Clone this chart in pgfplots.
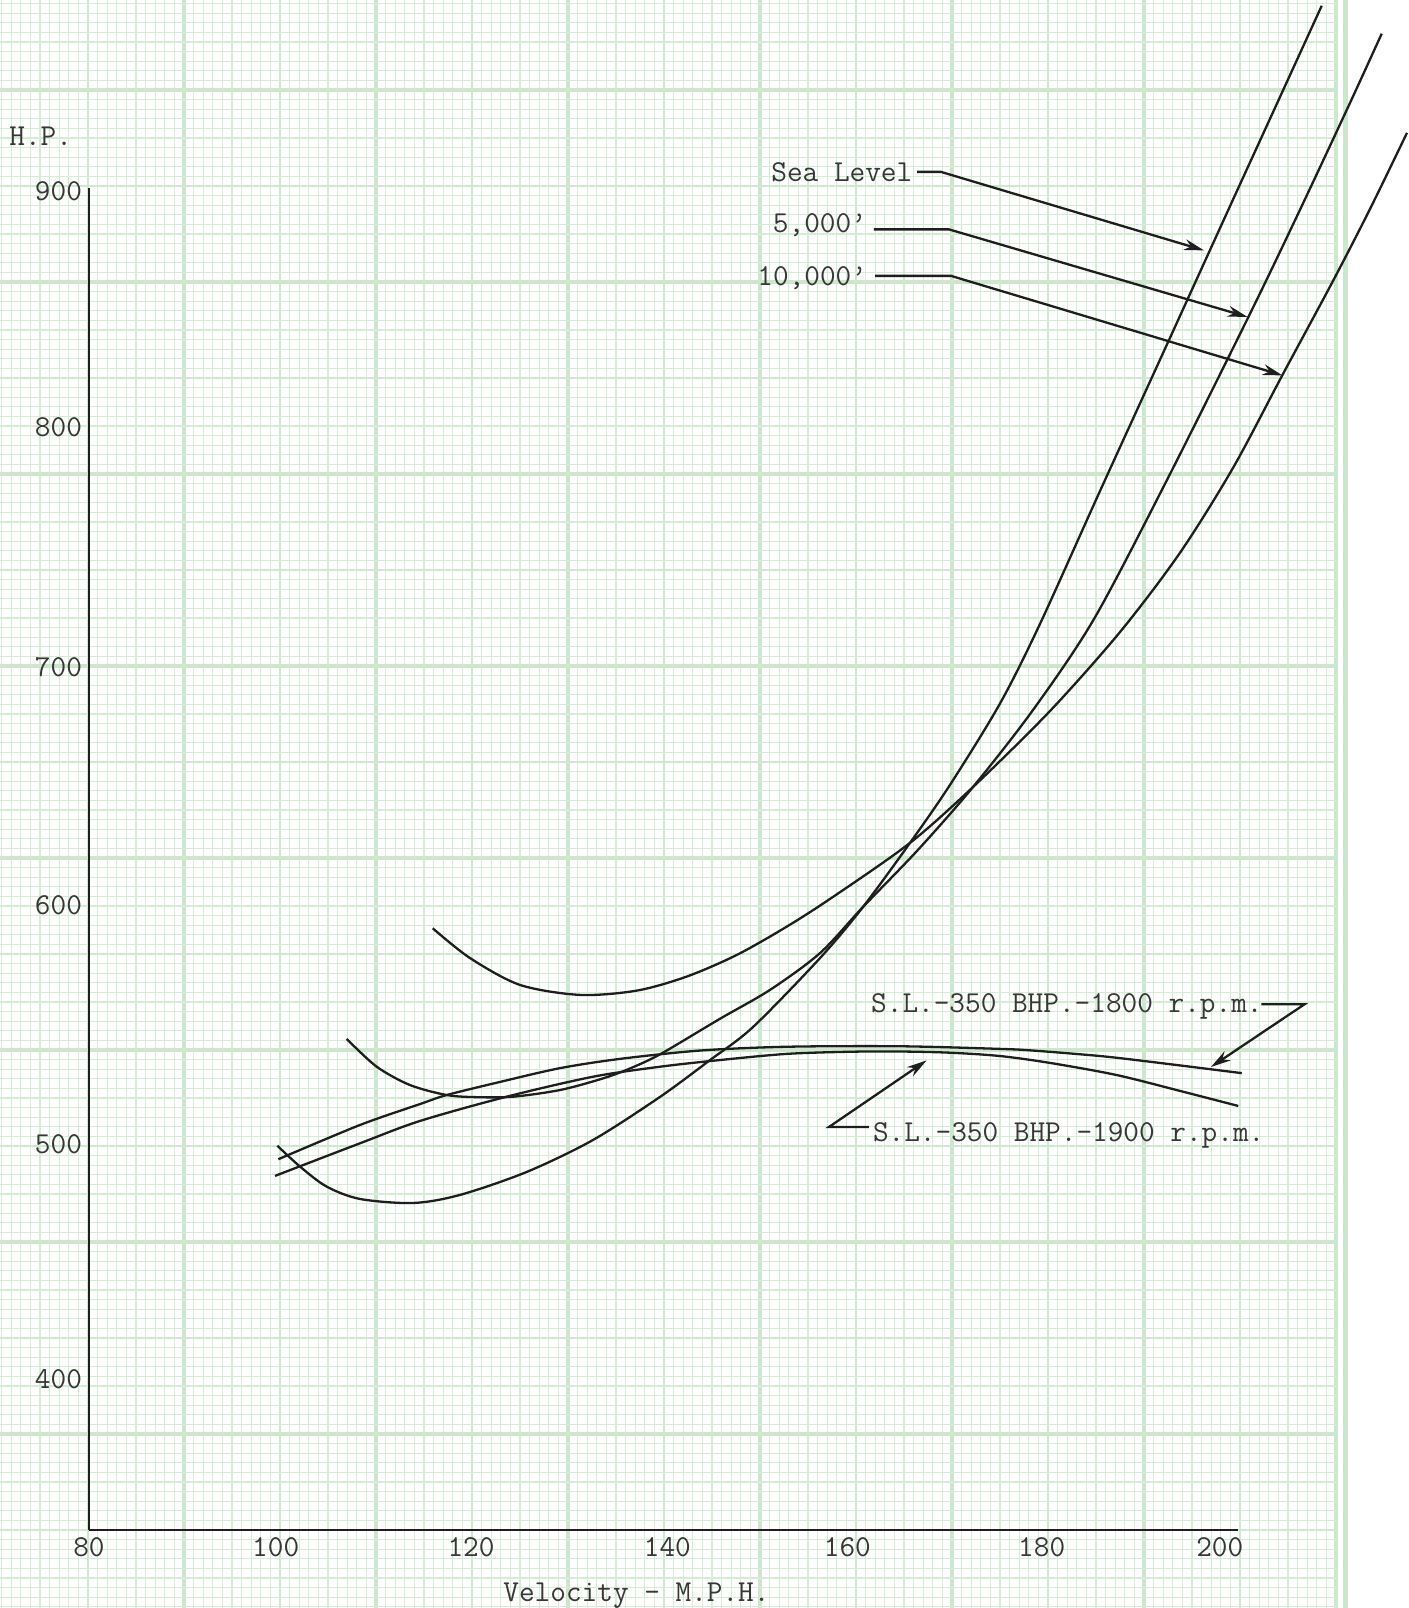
\documentclass[border=0pt]{standalone}
\usepackage{fontspec}
\usepackage{pgfplots}
\pgfplotsset{compat=1.18}
\usetikzlibrary{arrows.meta}
\definecolor{gthin}{RGB}{214,236,214}
\definecolor{gmed}{RGB}{207,232,207}
\definecolor{gthick}{RGB}{204,231,204}
\definecolor{ink}{RGB}{30,30,30}
\definecolor{txt}{RGB}{55,55,55}
\newcommand{\lab}{\fontsize{15.2}{18}\selectfont\ttfamily}
\pgfplotsset{curve/.style={draw=ink, line width=1.15pt, smooth, mark=none}}
\begin{document}
\begin{tikzpicture}
\useasboundingbox (0,0) rectangle (704.5pt,804pt);
\clip (0,0) rectangle (704.5pt,804pt);
% graph paper: vertical lines
\begin{axis}[at={(0pt,0pt)}, anchor=south west, scale only axis,
  width=704.5pt, height=804pt,
  xmin=0, xmax=1409, ymin=0, ymax=1608, y dir=reverse,
  axis line style={draw=none}, tick style={draw=none},
  major tick length=0, minor tick length=0,
  xtick={88,280,...,1240}, xticklabels={}, ytick=\empty,
  minor xtick={1.6,11.2,...,1346},
  extra x ticks={184,376,...,1336,1345.6}, extra x tick labels={},
  xmajorgrids, xminorgrids,
  minor grid style={draw=gthin, line width=0.65pt},
  major grid style={draw=gmed, line width=1.2pt},
  extra x tick style={grid=major, major grid style={draw=gthick, line width=2.3pt}},
]
\end{axis}
% graph paper: horizontal lines
\begin{axis}[at={(0pt,0pt)}, anchor=south west, scale only axis,
  width=668.25pt, height=804pt,
  xmin=0, xmax=1336.5, ymin=0, ymax=1608, y dir=reverse,
  axis line style={draw=none}, tick style={draw=none},
  major tick length=0, minor tick length=0,
  ytick={186,378,...,1530}, yticklabels={}, xtick=\empty,
  minor ytick={3.6,13.2,...,1608},
  extra y ticks={90,282,...,1434}, extra y tick labels={},
  ymajorgrids, yminorgrids,
  minor grid style={draw=gthin, line width=0.65pt},
  major grid style={draw=gmed, line width=1.2pt},
  extra y tick style={grid=major, major grid style={draw=gthick, line width=2.3pt}},
]
\end{axis}
% data
\begin{axis}[at={(44.5pt,39pt)}, anchor=south west, scale only axis,
  width=574.5pt, height=671pt,
  xmin=80, xmax=200, ymin=336.5, ymax=900.8, clip=false,
  axis x line*=bottom, axis y line*=left,
  axis line style={-, line width=1.3pt, draw=ink},
  major tick length=0, tick style={draw=none},
  xtick={80,99.5,119.9,140.4,159.2,179.5,198.1},
  xticklabels={80,100,120,140,160,180,200},
  ytick={400,498.6,599.1,699.4,800.2,899.3},
  yticklabels={400,500,600,700,800,900},
  tick label style={font=\lab, text=txt},
  /pgf/number format/assume math mode=true,
]
% Sea Level
\addplot[curve] coordinates {(99.67,498.1) (102.04,489.3) (104.82,480.9) (108.30,475.7) (113.84,474.0) (118.75,477.4) (125.74,487.1) (132.64,500.5) (139.63,518.6) (144.86,534.1) (149.35,548.0) (156.35,577.0) (160.84,598.5) (165.74,625.4) (169.92,649.8) (175.14,684.0) (179.32,717.5) (185.59,773.4) (193.08,839.4) (199.51,896.2) (204.73,942.1) (208.74,977.4)};
% 5,000 ft
\addplot[curve] coordinates {(106.91,543.0) (110.05,531.3) (113.52,523.6) (117.36,519.4) (120.49,518.5) (124.31,518.7) (129.19,521.5) (133.37,526.0) (136.16,530.0) (139.63,536.5) (145.87,551.4) (151.12,563.6) (156.35,579.1) (160.84,598.5) (166.58,622.5) (172.32,648.9) (178.59,681.3) (184.98,719.7) (192.58,778.0) (201.25,847.9) (206.47,891.6) (211.70,936.6) (215.01,965.7)};
% 10,000 ft
\addplot[curve] coordinates {(115.90,589.5) (119.79,577.0) (125.01,565.7) (131.28,561.5) (137.20,563.3) (142.42,569.2) (147.65,578.3) (152.87,590.2) (157.70,602.7) (165.74,625.4) (172.32,648.9) (180.37,680.9) (187.68,714.1) (193.94,747.4) (199.48,783.1) (204.70,822.6) (209.92,861.7) (213.79,892.0) (217.65,924.0)};
% S.L. 350 BHP 1800 rpm
\addplot[curve] coordinates {(99.77,492.4) (108.30,506.8) (114.57,515.6) (117.36,519.4) (122.92,524.9) (129.19,530.7) (135.46,534.6) (143.81,538.1) (152.87,539.7) (164.70,539.9) (175.14,538.8) (178.59,538.1) (185.59,535.8) (190.81,533.4) (200.39,528.6)};
% S.L. 350 BHP 1900 rpm
\addplot[curve] coordinates {(99.43,485.4) (108.30,499.1) (114.57,508.5) (123.62,518.7) (132.64,527.1) (139.63,531.3) (145.87,534.1) (152.87,536.7) (159.48,537.6) (164.70,537.7) (169.92,537.2) (175.14,535.8) (180.37,532.9) (187.33,527.8) (194.26,520.8) (200.03,514.8)};
% labels
\node[anchor=base west, inner sep=0, font=\lab, text=txt] at (axis cs:71.64,918.6) {H.P.};
\node[anchor=base west, inner sep=0, font=\lab, text=txt] at (axis cs:123.24,306.3) {Velocity - M.P.H.};
\node[anchor=base west, inner sep=0, font=\lab, text=txt] at (axis cs:151.23,903.5) {Sea Level};
\node[anchor=base west, inner sep=0, font=\lab, text=txt] at (axis cs:151.39,881.9) {5,000’};
\node[anchor=base west, inner sep=0, font=\lab, text=txt] at (axis cs:149.77,859.8) {10,000’};
\node[anchor=base west, inner sep=0, font=\lab, text=txt] at (axis cs:161.65,554.2) {S.L.-350 BHP.-1800 r.p.m.};
\node[anchor=base west, inner sep=0, font=\lab, text=txt] at (axis cs:161.84,499.8) {S.L.-350 BHP.-1900 r.p.m.};
% leaders
\draw[line width=1.15pt, draw=ink, -{Stealth[length=10pt,width=5.5pt]}] (axis cs:166.48,907.57) -- (axis cs:168.98,907.57) -- (axis cs:196.45,874.56);
\draw[line width=1.15pt, draw=ink, -{Stealth[length=10pt,width=5.5pt]}] (axis cs:161.98,883.39) -- (axis cs:169.82,883.39) -- (axis cs:200.99,846.59);
\draw[line width=1.15pt, draw=ink, -{Stealth[length=10pt,width=5.5pt]}] (axis cs:162.09,863.84) -- (axis cs:170.03,863.84) -- (axis cs:204.65,821.99);
\draw[line width=1.15pt, draw=ink, -{Stealth[length=10pt,width=5.5pt]}] (axis cs:202.45,557.57) -- (axis cs:206.95,557.57) -- (axis cs:197.18,531.2);
\draw[line width=1.15pt, draw=ink, -{Stealth[length=10pt,width=5.5pt]}] (axis cs:161.46,505.97) -- (axis cs:157.28,505.97) -- (axis cs:167.47,533.94);
\end{axis}
\end{tikzpicture}
\end{document}
